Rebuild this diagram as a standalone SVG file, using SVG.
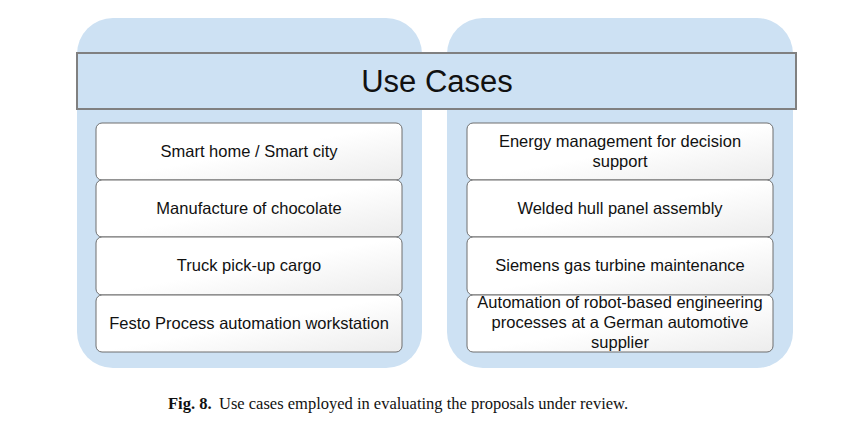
<svg xmlns="http://www.w3.org/2000/svg" width="846" height="442" viewBox="0 0 846 442">
<defs>
<linearGradient id="boxg" x1="0" y1="0" x2="1" y2="1">
<stop offset="0" stop-color="#ffffff"/>
<stop offset="0.5" stop-color="#ffffff"/>
<stop offset="1" stop-color="#ececec"/>
</linearGradient>
<style>
.panel{fill:#cde1f3;stroke:none}
.banner{fill:#cde1f3;stroke:#808080;stroke-width:2}
.box{fill:url(#boxg);stroke:#6f6f6f;stroke-width:1}
.t{font-family:"Liberation Sans",Arial,sans-serif;font-size:16.5px;fill:#111;text-anchor:middle}
.title{font-family:"Liberation Sans",Arial,sans-serif;font-size:31px;fill:#111;text-anchor:middle}
.cap{font-family:"Liberation Serif","Times New Roman",serif;font-size:16.5px;fill:#111}
</style>
</defs>
<rect width="846" height="442" fill="#ffffff"/>
<g id="panel-left"><rect class="panel" x="77" y="18" width="345" height="350" rx="36"/></g>
<g id="panel-right"><rect class="panel" x="447" y="18" width="346" height="350" rx="36"/></g>
<g id="header"><rect class="banner" x="77" y="53" width="719" height="56"/><text class="title" x="437" y="92">Use Cases</text></g>
<g id="l1"><rect class="box" x="96" y="123" width="306" height="57" rx="6"/><text class="t" x="249" y="157">Smart home / Smart city</text></g>
<g id="l2"><rect class="box" x="96" y="180" width="306" height="57" rx="6"/><text class="t" x="249" y="214">Manufacture of chocolate</text></g>
<g id="l3"><rect class="box" x="96" y="237" width="306" height="58" rx="6"/><text class="t" x="249" y="271">Truck pick-up cargo</text></g>
<g id="l4"><rect class="box" x="96" y="295" width="306" height="57" rx="6"/><text class="t" x="249" y="329">Festo Process automation workstation</text></g>
<g id="r1"><rect class="box" x="467" y="123" width="306" height="57" rx="6"/><text class="t" x="620" y="147">Energy management for decision</text><text class="t" x="620" y="167">support</text></g>
<g id="r2"><rect class="box" x="467" y="180" width="306" height="57" rx="6"/><text class="t" x="620" y="214">Welded hull panel assembly</text></g>
<g id="r3"><rect class="box" x="467" y="237" width="306" height="58" rx="6"/><text class="t" x="620" y="271">Siemens gas turbine maintenance</text></g>
<g id="r4"><rect class="box" x="467" y="295" width="306" height="57" rx="6"/><text class="t" x="620" y="308">Automation of robot-based engineering</text><text class="t" x="620" y="328">processes at a German automotive</text><text class="t" x="620" y="348">supplier</text></g>
<g id="connectors"></g>
<text class="cap" x="168" y="409"><tspan font-weight="bold">Fig. 8.</tspan><tspan x="219">Use cases employed in evaluating the proposals under review.</tspan></text>
</svg>
